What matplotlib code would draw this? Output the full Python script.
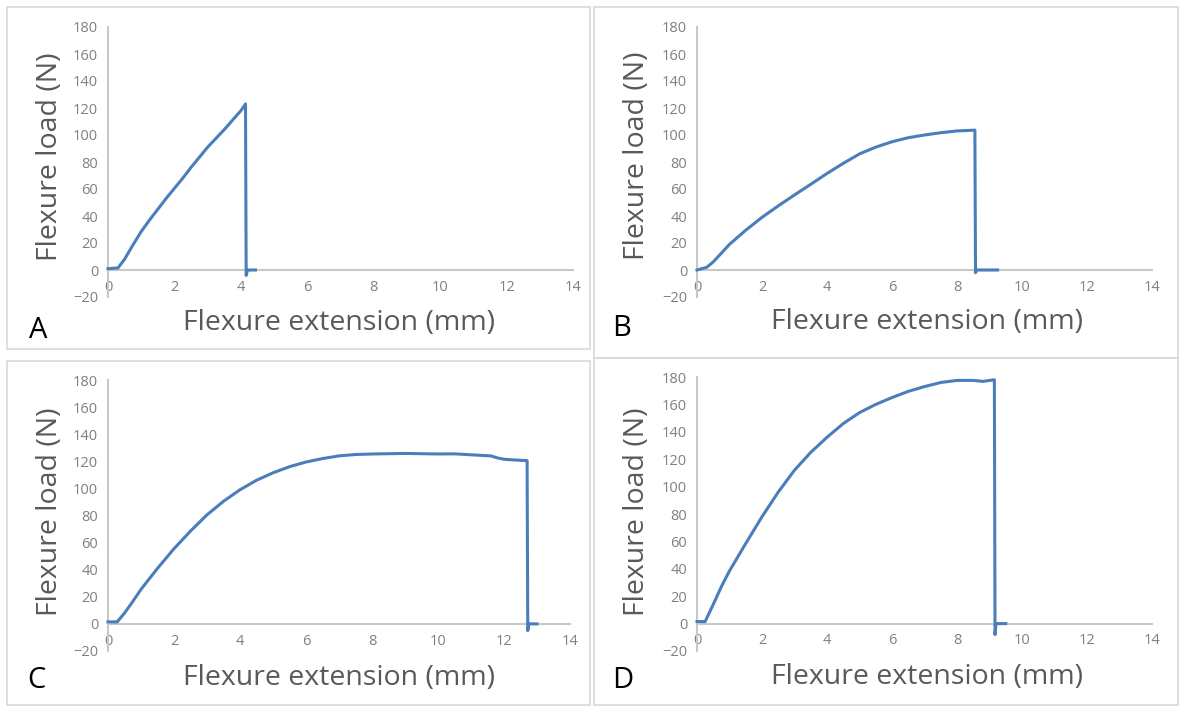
import matplotlib.pyplot as plt
from matplotlib.patches import Rectangle

plt.rcParams['font.family'] = ['Open Sans', 'DejaVu Sans']

# Flexure test curves (extension in mm, load in N)
a_x = [0, 0.3, 0.5, 0.75, 1, 1.25, 1.5, 1.75, 2, 2.25, 2.5, 2.75, 3, 3.25, 3.5,
       3.75, 4, 4.14, 4.16, 4.2, 4.44]
a_y = [1, 1.5, 8, 18.5, 28.5, 37, 45, 53, 60.5, 68, 76, 83.5, 91, 97.5, 104,
       111, 118, 123, -4, 0, 0]

b_x = [0, 0.3, 0.5, 0.75, 1, 1.5, 2, 2.5, 3, 3.5, 4, 4.5, 5, 5.5, 6, 6.5, 7,
       7.5, 8, 8.55, 8.57, 8.6, 9.25]
b_y = [0, 2, 6, 12.5, 19, 29.5, 39, 47.5, 55.6, 63.5, 71.5, 79, 86, 91, 95,
       98, 100, 101.7, 103, 103.6, -2, 0, 0]

c_x = [0, 0.28, 0.5, 0.75, 1, 1.5, 2, 2.5, 3, 3.5, 4, 4.5, 5, 5.5, 6, 6.5, 7,
       7.5, 8, 9, 10, 10.5, 11, 11.6, 11.8, 12, 12.3, 12.7, 12.72, 12.75, 13.0]
c_y = [1.5, 1.5, 8, 16.5, 25.5, 41, 55.5, 68.5, 80.5, 90.5, 99, 106, 111.5,
       116, 119.5, 122, 124, 125, 125.4, 125.8, 125.4, 125.5, 124.8, 124, 122.5,
       121.5, 121, 120.5, -5, 0, 0]

d_x = [0, 0.25, 0.5, 0.75, 1, 1.5, 2, 2.5, 3, 3.5, 4, 4.5, 5, 5.5, 6, 6.5, 7,
       7.5, 8, 8.5, 8.8, 9.15, 9.17, 9.2, 9.5]
d_y = [1.5, 1.5, 14, 27, 38.5, 58.5, 78, 96, 112, 125, 136, 146, 154, 160, 165,
       169.5, 173, 176, 177.5, 177.5, 176.8, 178, -8, 0, 0]

letters = ['A', 'B', 'C', 'D']
x_ticks = list(range(0, 15, 2))
y_ticks = list(range(-20, 181, 20))

W, H = 1183, 711
fig = plt.figure(figsize=(W / 100, H / 100), dpi=100)

# panel layout in pixels: frame box, plot box, label positions
panels = [
    dict(x=a_x, y=a_y, frame=(7, 7, 590, 349), box=(108, 27, 573, 297),
         ylab=(50, 157), xlab=(339, 323), let=(38, 331)),
    dict(x=b_x, y=b_y, frame=(594, 7, 1178, 358), box=(697, 27, 1152, 297),
         ylab=(637, 156), xlab=(927, 322), let=(622, 328)),
    dict(x=c_x, y=c_y, frame=(7, 361, 590, 705), box=(108, 380, 570, 651),
         ylab=(50, 512), xlab=(339, 678), let=(36, 681)),
    dict(x=d_x, y=d_y, frame=(594, 358, 1178, 705), box=(697, 377, 1152, 651),
         ylab=(637, 512), xlab=(927, 677), let=(623, 681)),
]

title_col = '#595959'
tick_col = '#808080'
axis_col = '#c8c8c8'

for p, letter in zip(panels, letters):
    fl, ft, fr, fb = p['frame']
    fig.patches.append(Rectangle((fl / W, 1 - fb / H), (fr - fl) / W, (fb - ft) / H,
                                 transform=fig.transFigure, fill=False,
                                 edgecolor='#d9d9d9', linewidth=1.2))

    l, t, r, b = p['box']
    ax = fig.add_axes([l / W, 1 - b / H, (r - l) / W, (b - t) / H])
    ax.plot(p['x'], p['y'], color='#4a7ebb', linewidth=2.2, clip_on=False,
            zorder=4)
    ax.set_xlim(0, 14)
    ax.set_ylim(-20, 180)
    ax.set_xticks(x_ticks)
    ax.set_yticks(y_ticks)
    ax.spines['top'].set_visible(False)
    ax.spines['right'].set_visible(False)
    ax.spines['bottom'].set_position(('data', 0))
    for s in ['left', 'bottom']:
        ax.spines[s].set_color(axis_col)
        ax.spines[s].set_linewidth(1.5)
    ax.tick_params(axis='both', length=0, labelsize=10.5, labelcolor=tick_col)
    ax.tick_params(axis='y', pad=7)
    ax.tick_params(axis='x', pad=7)
    ax.patch.set_alpha(0)

    fig.text(p['ylab'][0] / W, 1 - p['ylab'][1] / H, 'Flexure load (N)',
             rotation=90, ha='center', va='center', fontsize=20.5, color=title_col)
    fig.text(p['xlab'][0] / W, 1 - p['xlab'][1] / H, 'Flexure extension (mm)',
             ha='center', va='center', fontsize=20.5, color=title_col)
    fig.text(p['let'][0] / W, 1 - p['let'][1] / H, letter,
             ha='center', va='center', fontsize=21, color='black')

fig.savefig('out.png', dpi=100)
